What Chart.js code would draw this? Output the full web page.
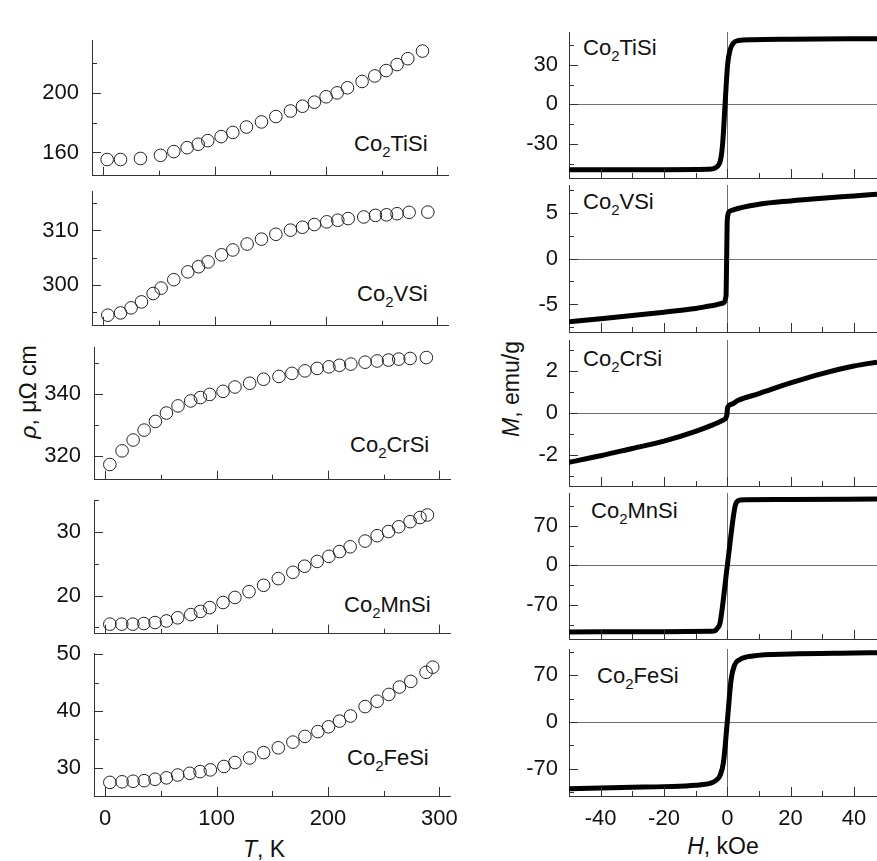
<!DOCTYPE html>
<html>
<head>
<meta charset="utf-8">
<script src="https://cdn.jsdelivr.net/npm/chart.js@4.4.0/dist/chart.umd.min.js"></script>
<style>
  html, body { margin: 0; padding: 0; background: #fff; }
  #fig { position: relative; width: 877px; height: 861px; overflow: hidden;
         font-family: "Liberation Sans", Arial, sans-serif; color: #111; }
  #fig canvas { position: absolute; }
  .lbl { position: absolute; font-size: 22px; line-height: 22px; white-space: nowrap; }
  .lbl sub { font-size: 15px; vertical-align: -6px; line-height: 0; }
  .ttl { position: absolute; font-size: 23px; line-height: 24px; white-space: nowrap; }
  .rot { transform: translate(-50%, -50%) rotate(-90deg); }
</style>
</head>
<body>
<div id="fig">
  <!-- compound labels, left column -->
  <div class="lbl" style="left:354px;top:133px">Co<sub>2</sub>TiSi</div>
  <div class="lbl" style="left:357px;top:283px">Co<sub>2</sub>VSi</div>
  <div class="lbl" style="left:350px;top:434px">Co<sub>2</sub>CrSi</div>
  <div class="lbl" style="left:344px;top:594px">Co<sub>2</sub>MnSi</div>
  <div class="lbl" style="left:347px;top:747px">Co<sub>2</sub>FeSi</div>
  <!-- compound labels, right column -->
  <div class="lbl" style="left:583px;top:37px">Co<sub>2</sub>TiSi</div>
  <div class="lbl" style="left:583px;top:191px">Co<sub>2</sub>VSi</div>
  <div class="lbl" style="left:583px;top:348px">Co<sub>2</sub>CrSi</div>
  <div class="lbl" style="left:591px;top:500px">Co<sub>2</sub>MnSi</div>
  <div class="lbl" style="left:597px;top:665px">Co<sub>2</sub>FeSi</div>
  <!-- axis titles -->
  <div class="ttl rot" style="left:28px;top:392px"><i>ρ</i>, μΩ cm</div>
  <div class="ttl rot" style="left:511px;top:389px"><i>M</i>, emu/g</div>
  <div class="ttl" style="left:264px;top:837px;transform:translateX(-50%)"><i>T</i>, K</div>
  <div class="ttl" style="left:723px;top:834px;transform:translateX(-50%)"><i>H</i>, kOe</div>
</div>

<script>
// ── Resistivity vs temperature (left column) ─────────────
const tTiSi   = [3.6, 15.6, 33.5, 51.5, 63.4, 75.4, 85.3, 93.9, 105.9, 116.4, 128.6, 142.1, 155, 168.1, 178.9, 189.6, 200.1, 210, 219.3, 232.4, 243.8, 254, 263.8, 273.4, 286.6];
const rhoTiSi = [155.3, 155.3, 156.0, 158.1, 160.6, 163.2, 165.5, 167.9, 170.6, 173.4, 177.0, 180.4, 184.0, 187.7, 190.9, 193.6, 197.2, 199.8, 203.2, 207.4, 211.1, 214.7, 218.7, 222.6, 227.7];

const tVSi   = [4.2, 15.6, 25.1, 34.4, 44.9, 52, 63.4, 76, 85.6, 94.2, 106.2, 116.4, 129.2, 142.1, 155, 168.1, 178.9, 189.6, 200.7, 210.6, 219.9, 233.9, 244.4, 254.3, 263.8, 274.6, 291.4];
const rhoVSi = [294.35, 294.76, 295.7, 296.8, 298.35, 299.35, 300.9, 302.35, 303.3, 304.2, 305.5, 306.4, 307.5, 308.4, 309.3, 310.06, 310.6, 311.1, 311.6, 311.9, 312.2, 312.5, 312.8, 312.9, 313.1, 313.35, 313.4];

const tCrSi   = [4.2, 15.2, 25.1, 35, 45.1, 55, 65.4, 76.8, 85.5, 93.8, 105.8, 116.5, 129.7, 142.2, 156, 167.6, 179.3, 190.3, 200.8, 210.3, 220.5, 233.3, 244.1, 254.3, 263.5, 273.7, 288.3];
const rhoCrSi = [317.1, 321.5, 325.0, 328.2, 331.0, 333.7, 336.0, 337.6, 338.7, 339.7, 340.7, 342.1, 343.3, 344.6, 345.5, 346.5, 347.3, 348.1, 348.6, 349.1, 349.5, 350.1, 350.5, 350.8, 351.1, 351.3, 351.6];

const tMnSi   = [4.2, 14.9, 24.8, 34.7, 44.8, 55, 65.1, 76.8, 85.5, 93.8, 105.8, 116.5, 129.1, 142.2, 155.4, 168.5, 179, 190.3, 200.8, 210.3, 219.9, 233.3, 244.1, 254.3, 263.5, 273.7, 282.6, 289.2];
const rhoMnSi = [15.5, 15.5, 15.5, 15.6, 15.75, 16.0, 16.5, 17.0, 17.5, 18.1, 18.9, 19.7, 20.6, 21.6, 22.65, 23.65, 24.6, 25.35, 26.15, 26.9, 27.65, 28.55, 29.4, 30.05, 30.8, 31.6, 32.25, 32.65];

const tFeSi   = [4.2, 15.2, 25.1, 35, 44.8, 55, 65.1, 75.9, 85.2, 94.4, 106.6, 116.5, 129.7, 142.2, 155.4, 168.5, 179.3, 190.9, 200.5, 210.3, 220.2, 233.3, 244.1, 254.6, 264.1, 274.3, 288, 294];
const rhoFeSi = [27.4, 27.5, 27.6, 27.7, 27.95, 28.2, 28.7, 29.0, 29.3, 29.6, 30.2, 30.9, 31.7, 32.65, 33.5, 34.5, 35.5, 36.35, 37.2, 38.2, 39.1, 40.75, 41.7, 42.9, 44.2, 45.2, 46.8, 47.7];

// ── Magnetization vs field (right column) ────────────────
const hTiSi = [-50, -20, -6, -3.4, -2.1, -1.45, -0.7, 0.1, 0.85, 1.9, 3.5, 8, 20, 47.3];
const mTiSi = [-49.8, -49.7, -49.4, -47.7, -42, -29.5, 0, 30, 41, 46.5, 48.5, 49.2, 49.5, 49.9];

const hVSi = [-50, -40, -30, -20, -10, -4.4, -1.3, -0.4, -0.2, 0, 0.6, 1.9, 10, 20, 30, 40, 47.3];
const mVSi = [-6.88, -6.55, -6.2, -5.84, -5.44, -5.11, -4.85, -4.1, 0, 4.2, 5.1, 5.3, 5.9, 6.27, 6.56, 6.81, 7.0];

const hCrSi = [-50, -40, -30, -20, -10, -4.4, -1.8, -0.4, -0.1, 0.1, 1.4, 3.5, 10, 20, 30, 40, 47.3];
const mCrSi = [-2.36, -2.05, -1.7, -1.35, -0.88, -0.56, -0.38, -0.22, -0.05, 0.26, 0.42, 0.61, 0.93, 1.44, 1.89, 2.25, 2.44];

const hMnSi = [-50, -20, -5, -3.9, -3.0, -2.3, 0, 2.4, 3.1, 4, 6, 20, 47.3];
const mMnSi = [-117.5, -117, -116.5, -115.5, -110, -102, -1, 103, 113, 115.5, 116, 116.5, 117.5];

const hFeSi = [-50, -40, -30, -20, -10, -5, -3.5, -2.3, -1.2, 0, 1.2, 2.3, 3.9, 8, 20, 40, 47.3];
const mFeSi = [-99.5, -98.5, -97.5, -96.5, -94.5, -91, -87, -80, -60, 0, 63, 85, 93, 98.5, 101.5, 103, 103.5];

// ── Axis ticks ────────────────────────────────────────────
const tMajor = [0, 100, 200, 300], tMinor = [50, 150, 250];
const hMajor = [-40, -20, 0, 20, 40], hMinor = [-30, -10, 10, 30];

const FONT = '"Liberation Sans", Arial, sans-serif';
const fig = document.getElementById("fig");

// inward tick marks + zero lines, placed through the chart's own scales
const inTicks = {
  id: "inTicks",
  beforeDatasetsDraw(chart, args, o) {
    if (!o.zero) return;
    const { ctx, chartArea: a, scales: { x, y } } = chart;
    const px = Math.round(x.getPixelForValue(0)) + 0.5;
    const py = Math.round(y.getPixelForValue(0)) + 0.5;
    ctx.save();
    ctx.strokeStyle = "#707070"; ctx.lineWidth = 1;
    ctx.beginPath();
    ctx.moveTo(px, a.top); ctx.lineTo(px, a.bottom);
    ctx.moveTo(a.left, py); ctx.lineTo(a.right, py);
    ctx.stroke();
    ctx.restore();
  },
  afterDraw(chart, args, o) {
    const { ctx, chartArea: a, scales: { x, y } } = chart;
    ctx.save();
    ctx.strokeStyle = "#333"; ctx.lineWidth = 1;
    ctx.beginPath();
    const xm = (vals, len) => vals.forEach(v => {
      const p = Math.round(x.getPixelForValue(v)) + 0.5;
      ctx.moveTo(p, a.bottom); ctx.lineTo(p, a.bottom - len);
    });
    const ym = (vals, len) => vals.forEach(v => {
      const p = Math.round(y.getPixelForValue(v)) + 0.5;
      ctx.moveTo(a.left, p); ctx.lineTo(a.left + len, p);
    });
    xm(o.xMajor, 9); xm(o.xMinor, 5);
    ym(o.yMajor, 9); ym(o.yMinor, 5);
    ctx.stroke();
    ctx.restore();
  }
};

function panel(c) {
  const padTop = 14;
  const cv = document.createElement("canvas");
  cv.width  = c.axisW + c.plotW + c.padRight;
  cv.height = padTop + (c.bottom - c.top) + c.xH;
  cv.style.left = c.left + "px";
  cv.style.top  = (c.top - padTop) + "px";
  fig.appendChild(cv);

  const pts = c.xs.map((v, i) => ({ x: v, y: c.ys[i] }));
  const ds = c.curve
    ? { data: pts, showLine: true, borderColor: "#000", borderWidth: 5, pointRadius: 0,
        cubicInterpolationMode: "monotone", borderJoinStyle: "round" }
    : { data: pts, showLine: false, pointRadius: 6.3, pointBorderWidth: 1,
        pointBorderColor: "#222", pointBackgroundColor: "rgba(255,255,255,0)", clip: false };

  const tickFont = { family: FONT, size: 22 };
  new Chart(cv.getContext("2d"), {
    type: "scatter",
    data: { datasets: [ds] },
    options: {
      responsive: false, animation: false, events: [],
      layout: { padding: { top: padTop, right: c.padRight, bottom: 0, left: 0 } },
      plugins: {
        legend: { display: false }, tooltip: { enabled: false },
        inTicks: { xMajor: c.xMajor, xMinor: c.xMinor, yMajor: c.yMajor, yMinor: c.yMinor, zero: c.curve }
      },
      scales: {
        x: {
          type: "linear", min: c.xMin, max: c.xMax,
          grid: { display: false, drawTicks: false },
          border: { display: true, color: "#333", width: 1 },
          ticks: { display: c.showX, font: tickFont, color: "#111", padding: 10, callback: v => String(v) },
          afterBuildTicks: s => { s.ticks = c.xMajor.map(v => ({ value: v })); },
          afterFit: s => { s.height = c.xH; s.paddingLeft = 0; s.paddingRight = 0; }
        },
        y: {
          type: "linear", min: c.yMin, max: c.yMax,
          grid: { display: false, drawTicks: false },
          border: { display: true, color: "#333", width: 1 },
          ticks: { font: tickFont, color: "#111", padding: c.yPad, callback: v => String(v) },
          afterBuildTicks: s => { s.ticks = c.yMajor.map(v => ({ value: v })); },
          afterFit: s => { s.width = c.axisW; s.paddingTop = 0; s.paddingBottom = 0; }
        }
      }
    },
    plugins: [inTicks]
  });
}

// left column: rho(T)
const leftRows = [
  { xs: tTiSi, ys: rhoTiSi, top: 40,  bottom: 182, yMin: 144.5, yMax: 235.1, yMajor: [160, 200],    yMinor: [180, 220],      left: 0 },
  { xs: tVSi,  ys: rhoVSi,  top: 191, bottom: 332, yMin: 292.4, yMax: 317.3, yMajor: [300, 310],    yMinor: [295, 305, 315], left: 0 },
  { xs: tCrSi, ys: rhoCrSi, top: 347, bottom: 486, yMin: 312.2, yMax: 355,   yMajor: [320, 340],    yMinor: [330, 350],      left: 2 },
  { xs: tMnSi, ys: rhoMnSi, top: 500, bottom: 640, yMin: 14,    yMax: 35,    yMajor: [20, 30],      yMinor: [15, 25, 35],    left: 2 },
  { xs: tFeSi, ys: rhoFeSi, top: 653, bottom: 796, yMin: 25,    yMax: 50.2,  yMajor: [30, 40, 50],  yMinor: [35, 45],        left: 2 }
];
leftRows.forEach((r, i) => panel(Object.assign({
  curve: false, axisW: 92, plotW: 356, padRight: 20, yPad: 13,
  xMin: -10, xMax: 309.5, xMajor: tMajor, xMinor: tMinor,
  showX: i === leftRows.length - 1, xH: i === leftRows.length - 1 ? 44 : 1
}, r)));

// right column: M(H)
const rightRows = [
  { xs: hTiSi, ys: mTiSi, top: 32,  bottom: 178, yMin: -56,  yMax: 55,  yMajor: [-30, 0, 30], yMinor: [-45, -15, 15, 45] },
  { xs: hVSi,  ys: mVSi,  top: 185, bottom: 332, yMin: -8,   yMax: 8,   yMajor: [-5, 0, 5],   yMinor: [-7.5, -2.5, 2.5, 7.5] },
  { xs: hCrSi, ys: mCrSi, top: 340, bottom: 486, yMin: -3.5, yMax: 3.5, yMajor: [-2, 0, 2],   yMinor: [-3, -1, 1, 3] },
  { xs: hMnSi, ys: mMnSi, top: 493, bottom: 639, yMin: -130, yMax: 128, yMajor: [-70, 0, 70], yMinor: [-105, -35, 35, 105] },
  { xs: hFeSi, ys: mFeSi, top: 649, bottom: 796, yMin: -110.5, yMax: 109, yMajor: [-70, 0, 70], yMinor: [-105, -35, 35, 105] }
];
rightRows.forEach((r, i) => panel(Object.assign({
  curve: true, left: 470, axisW: 99, plotW: 308, padRight: 0, yPad: 11,
  xMin: -50, xMax: 47.3, xMajor: hMajor, xMinor: hMinor,
  showX: i === rightRows.length - 1, xH: i === rightRows.length - 1 ? 44 : 1
}, r)));
</script>
</body>
</html>
